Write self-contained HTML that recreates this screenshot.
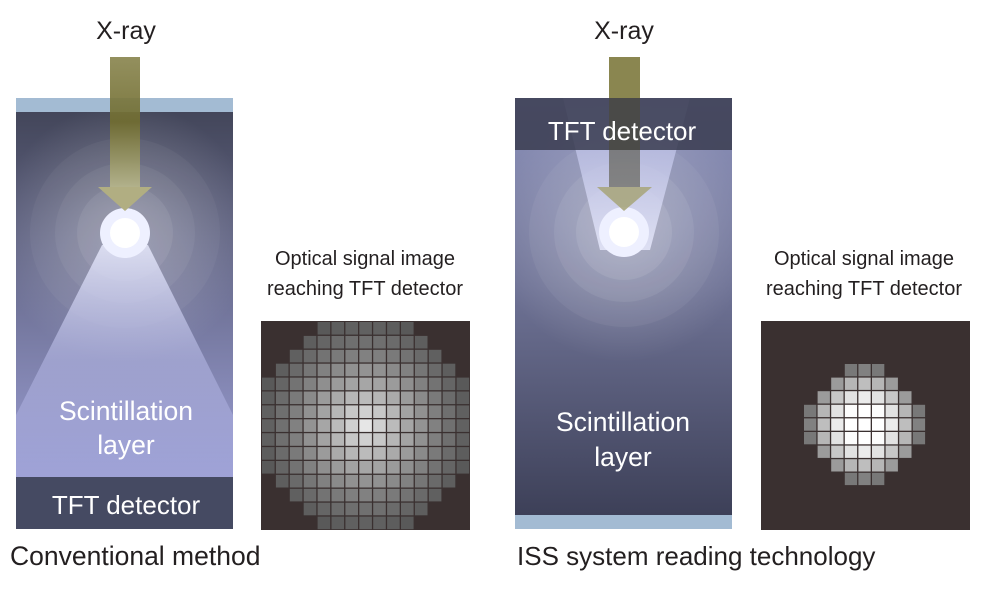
<!DOCTYPE html>
<html><head><meta charset="utf-8"><style>
body{margin:0;background:#fff;width:1008px;height:598px;overflow:hidden}
svg{display:block}
text{font-family:"Liberation Sans",sans-serif}
</style></head><body>
<svg width="1008" height="598" xmlns="http://www.w3.org/2000/svg">
<defs>
<linearGradient id="lb" x1="0" y1="0" x2="0" y2="1"><stop offset="0" stop-color="#43465a"/><stop offset="1" stop-color="#9a9dd2"/></linearGradient>
<linearGradient id="rb" x1="0" y1="0" x2="0" y2="1"><stop offset="0" stop-color="#8d92ba"/><stop offset="0.45" stop-color="#6f7396"/><stop offset="1" stop-color="#3d4058"/></linearGradient>
<linearGradient id="ar" x1="0" y1="0" x2="0" y2="1"><stop offset="0" stop-color="#8a8650"/><stop offset="0.5" stop-color="#716d30"/><stop offset="1" stop-color="#b6b58a"/></linearGradient>
<linearGradient id="cl" x1="0" y1="0" x2="0" y2="1"><stop offset="0" stop-color="#e6e8fb" stop-opacity="0.85"/><stop offset="0.5" stop-color="#b8bbe8" stop-opacity="0.55"/><stop offset="1" stop-color="#a4a7dc" stop-opacity="0.5"/></linearGradient>
<linearGradient id="cr" x1="0" y1="1" x2="0" y2="0"><stop offset="0" stop-color="#e6e8fb" stop-opacity="0.85"/><stop offset="1" stop-color="#b4b8e6" stop-opacity="0.6"/></linearGradient>
<radialGradient id="halo"><stop offset="0" stop-color="#fff" stop-opacity="0.3"/><stop offset="1" stop-color="#fff" stop-opacity="0"/></radialGradient>
<clipPath id="cL"><rect x="16" y="112" width="217" height="365"/></clipPath>
<clipPath id="cR"><rect x="515" y="98" width="217" height="417"/></clipPath>
</defs>
<!-- Left panel -->
<rect x="16" y="112" width="217" height="365" fill="url(#lb)"/>
<g clip-path="url(#cL)">
<circle cx="125" cy="233" r="130" fill="url(#halo)"/>
<circle cx="125" cy="233" r="95" fill="#fff" opacity="0.04"/>
<circle cx="125" cy="233" r="70" fill="#fff" opacity="0.05"/>
<circle cx="125" cy="233" r="48" fill="#fff" opacity="0.07"/>
<polygon points="102,245 148,245 233,415 233,477 16,477 16,415" fill="url(#cl)"/>
</g>
<rect x="16" y="98" width="217" height="14" fill="#a3bbd3"/>
<rect x="16" y="477" width="217" height="52" fill="#454a62"/>
<circle cx="125" cy="233" r="25" fill="#eef0ff"/>
<circle cx="125" cy="233" r="15" fill="#fff"/>
<rect x="110" y="57" width="30" height="130" fill="url(#ar)" opacity="0.92"/>
<polygon points="98,187 152,187 125,211" fill="#b1ae82"/>
<text x="126" y="39" font-size="25" fill="#231f20" text-anchor="middle">X-ray</text>
<text x="126" y="420" font-size="26.5" fill="#fff" text-anchor="middle">Scintillation</text>
<text x="126" y="454" font-size="26.5" fill="#fff" text-anchor="middle">layer</text>
<text x="126" y="514" font-size="26" fill="#fff" text-anchor="middle">TFT detector</text>
<text x="10" y="565" font-size="26.5" fill="#231f20">Conventional method</text>
<text x="365" y="265" font-size="20" fill="#231f20" text-anchor="middle">Optical signal image</text>
<text x="365" y="295" font-size="20" fill="#231f20" text-anchor="middle">reaching TFT detector</text>
<!-- Right panel -->
<rect x="515" y="98" width="217" height="417" fill="url(#rb)"/>
<g clip-path="url(#cR)">
<circle cx="624" cy="232" r="130" fill="url(#halo)"/>
<circle cx="624" cy="232" r="95" fill="#fff" opacity="0.05"/>
<circle cx="624" cy="232" r="70" fill="#fff" opacity="0.07"/>
<circle cx="624" cy="232" r="48" fill="#fff" opacity="0.09"/>
<polygon points="563,98 690,98 650,250 600,250" fill="url(#cr)"/>
</g>
<rect x="515" y="98" width="217" height="52" fill="#3a3c50" opacity="0.85"/>
<rect x="515" y="515" width="217" height="14" fill="#a3bbd3"/>
<circle cx="624" cy="232" r="25" fill="#eef0ff"/>
<circle cx="624" cy="232" r="15" fill="#fff"/>
<rect x="609" y="57" width="31" height="41" fill="#8a8650"/>
<rect x="609" y="98" width="31" height="89" fill="#4a4832" opacity="0.55"/>
<polygon points="597,187 652,187 624,211" fill="#a9a67e" opacity="0.9"/>
<text x="624" y="39" font-size="25" fill="#231f20" text-anchor="middle">X-ray</text>
<text x="622" y="140" font-size="26" fill="#fff" text-anchor="middle">TFT detector</text>
<text x="623" y="431" font-size="26.5" fill="#fff" text-anchor="middle">Scintillation</text>
<text x="623" y="466" font-size="26.5" fill="#fff" text-anchor="middle">layer</text>
<text x="517" y="565" font-size="26" fill="#231f20">ISS system reading technology</text>
<text x="864" y="265" font-size="20" fill="#231f20" text-anchor="middle">Optical signal image</text>
<text x="864" y="295" font-size="20" fill="#231f20" text-anchor="middle">reaching TFT detector</text>
<rect x="261" y="321" width="209" height="209" fill="#3a3030"/>
<rect x="761" y="321" width="209" height="209" fill="#3a3030"/>
<g id="gl"></g><g id="gr"></g>
</svg>
<script>
var NS="http://www.w3.org/2000/svg";
function cell(g,x,y,w,v){var r=document.createElementNS(NS,"rect");r.setAttribute("x",x);r.setAttribute("y",y);r.setAttribute("width",w);r.setAttribute("height",w);var c=Math.round(v);r.setAttribute("fill","rgb("+c+","+c+","+c+")");g.appendChild(r);}
var gl=document.getElementById("gl"),gr=document.getElementById("gr");
var L=[[4,10],[3,11],[2,12],[1,13],[0,14],[0,14],[0,14],[0,14],[0,14],[0,14],[0,14],[1,13],[2,12],[3,11],[4,10]];
for(var i=0;i<15;i++)for(var j=L[i][0];j<=L[i][1];j++){var d=Math.sqrt((i-7)*(i-7)+(j-7)*(j-7))/9;var v=75+155*Math.pow(Math.max(0,1-d),1.3);cell(gl,262+j*13.9,322+i*13.9,12.6,v);}
var R=[[3,5],[2,6],[1,7],[0,8],[0,8],[0,8],[1,7],[2,6],[3,5]];
for(var i=0;i<9;i++)for(var j=R[i][0];j<=R[i][1];j++){var d=Math.sqrt((i-4)*(i-4)+(j-4)*(j-4))/4.6;var v=100+170*Math.max(0,1-d*d*1.1);if(v>255)v=255;cell(gr,804+j*13.6,364+i*13.6,12.3,v);}
</script>
</body></html>
